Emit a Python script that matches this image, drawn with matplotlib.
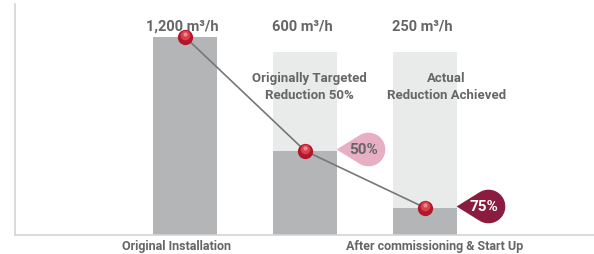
import numpy as np
import matplotlib.pyplot as plt
from matplotlib.path import Path
from matplotlib.transforms import offset_copy

plt.rcParams['font.family'] = ['Roboto', 'DejaVu Sans']

# data
stages = [0, 1, 2]
flow_labels = ['1,200 m³/h', '600 m³/h', '250 m³/h']
flow_heights = [1200, 510, 165]           # drawn bar heights
target_heights = [0, 1110, 1110]          # light background bars
badge_stage = [1, 2]
badge_text = ['50%', '75%']
category_pos = [-0.07, 2.08]
category_labels = ['Original Installation', 'After commissioning & Start Up']
note_pos = [1.04, 2.18]
note_labels = ['Originally Targeted\nReduction 50%', 'Actual\nReduction Achieved']

TEXT = '#666666'
DARK_BAR = '#b4b5b7'
LIGHT_BAR = '#e8ebea'
BADGE_COLORS = ['#e6afc3', '#8a1c40']
BADGE_TEXT = ['#666666', 'white']


def teardrop(ratio=1.9, n=80):
    # circle of radius 1 with a point sticking out to the left
    alpha = np.degrees(np.arccos(1.0 / ratio))
    ang = np.radians(np.linspace(180 + alpha, 540 - alpha, n))
    verts = [(-ratio, 0.0)] + list(zip(np.cos(ang), np.sin(ang))) + [(-ratio, 0.0)]
    codes = [Path.MOVETO] + [Path.LINETO] * n + [Path.CLOSEPOLY]
    return Path(verts, codes)


fig = plt.figure(figsize=(5.94, 2.55), dpi=100)
ax = fig.add_axes([0.0253, 0.0745, 0.9747, 0.906])

ax.bar(stages, target_heights, width=0.53, color=LIGHT_BAR, zorder=1)
ax.bar(stages, flow_heights, width=0.53, color=DARK_BAR, zorder=2)

ax.plot(stages, flow_heights, color='#777777', lw=1.2, zorder=3)

# red spheres with a small highlight
ax.plot(stages, flow_heights, 'o', ms=11, color='#b0172a', mec='none', zorder=4)
hi = offset_copy(ax.transData, fig=fig, x=0, y=1.2, units='points')
ax.plot(stages, flow_heights, 'o', ms=7, color='#d8404c', mec='none', zorder=5, transform=hi)
hi2 = offset_copy(ax.transData, fig=fig, x=0, y=2.2, units='points')
ax.plot(stages, flow_heights, 'o', ms=3, color='#ec8a90', mec='none', zorder=6, transform=hi2)

for s, lab in zip(stages, flow_labels):
    ax.text(s - 0.02, 1272, lab, ha='center', va='center', fontsize=10.5,
            fontweight='bold', color=TEXT)

for x, lab in zip(note_pos, note_labels):
    ax.text(x, 905, lab, ha='center', va='center', fontsize=9.5,
            fontweight='bold', color=TEXT, linespacing=1.4)

drop = teardrop()
for s, txt, c, tc in zip(badge_stage, badge_text, BADGE_COLORS, BADGE_TEXT):
    y = flow_heights[s] + 10
    shift = offset_copy(ax.transData, fig=fig, x=45, y=0, units='points')
    ax.plot(s, y, marker=drop, ms=46, color=c, mec='none', zorder=7, transform=shift)
    tshift = offset_copy(ax.transData, fig=fig, x=42, y=0, units='points')
    ax.text(s, y, txt, ha='center', va='center', fontsize=11, fontweight='bold',
            color=tc, zorder=8, transform=tshift)

ax.set_xlim(-1.417, 3.408)
ax.set_ylim(0, 1400)
ax.set_xticks(category_pos)
ax.set_xticklabels(category_labels, fontsize=9, fontweight='bold', color=TEXT)
ax.tick_params(axis='x', length=0, pad=3)
ax.set_yticks([])
for side in ['top', 'right']:
    ax.spines[side].set_visible(False)
for side in ['left', 'bottom']:
    ax.spines[side].set_color('#d4d4d4')
    ax.spines[side].set_linewidth(1.2)

fig.savefig('out.png', dpi=100)
